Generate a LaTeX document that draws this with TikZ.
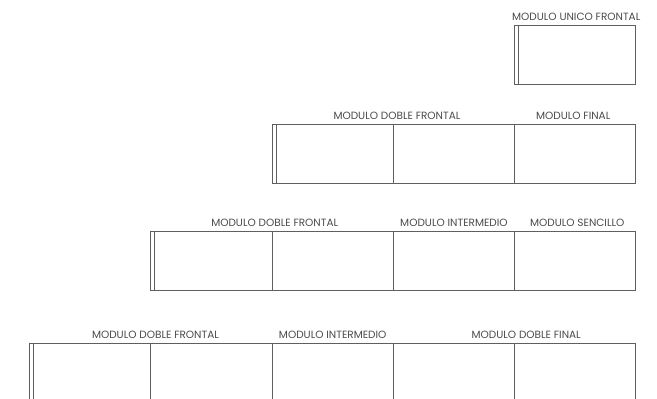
\documentclass[tikz,border=0pt]{standalone}
\usepackage{fontspec}
\setmainfont{Poppins}
\definecolor{linegray}{RGB}{95,95,95}
\definecolor{textgray}{RGB}{75,75,75}
\tikzset{%
	every module/.style={
		rectangle,
		draw=linegray,
		line width=1.2pt,
		minimum width=121.25pt,
		minimum height=59pt,
		inner sep=0pt,
		anchor=north west
	},
	module strip/.style={
		draw=linegray,
		line width=1pt
	},
	module label/.style={
		font=\fontsize{10.5}{12}\selectfont,
		text=textgray,
		inner sep=0pt,
		above=4pt
	},
}

\begin{document}
\begin{tikzpicture}[x=1pt, y=-1pt]
		\useasboundingbox (0,0) rectangle (657,399);
		
		\foreach \r/\top/\first in {1/25/5, 2/124/3, 3/231/2, 4/343/1}
		\foreach \c in {\first,...,5}
		\node [every module] (mod-\r-\c) at ({29+(\c-1)*121.25},\top) {};
		
		\foreach \r/\first in {1/5, 2/3, 3/2, 4/1}
		\draw [module strip] ([xshift=4.5pt]mod-\r-\first.north west) -- ([xshift=4.5pt]mod-\r-\first.south west);
		
		% row 1
		\node [module label, xshift=1pt] at (mod-1-5.north) {MODULO UNICO FRONTAL};
		
		% row 2
		\node [module label, xshift=3pt] at (mod-2-3.north east) {MODULO DOBLE FRONTAL};
		\node [module label, xshift=-2pt] at (mod-2-5.north) {MODULO FINAL};
		
		% row 3
		\node [module label, xshift=2pt] at (mod-3-2.north east) {MODULO DOBLE FRONTAL};
		\node [module label] at (mod-3-4.north) {MODULO INTERMEDIO};
		\node [module label, xshift=2pt] at (mod-3-5.north) {MODULO SENCILLO};
		
		% row 4
		\node [module label, xshift=4pt] at (mod-4-1.north east) {MODULO DOBLE FRONTAL};
		\node [module label] at (mod-4-3.north) {MODULO INTERMEDIO};
		\node [module label, xshift=11pt] at (mod-4-4.north east) {MODULO DOBLE FINAL};
		
\end{tikzpicture}
\end{document}
